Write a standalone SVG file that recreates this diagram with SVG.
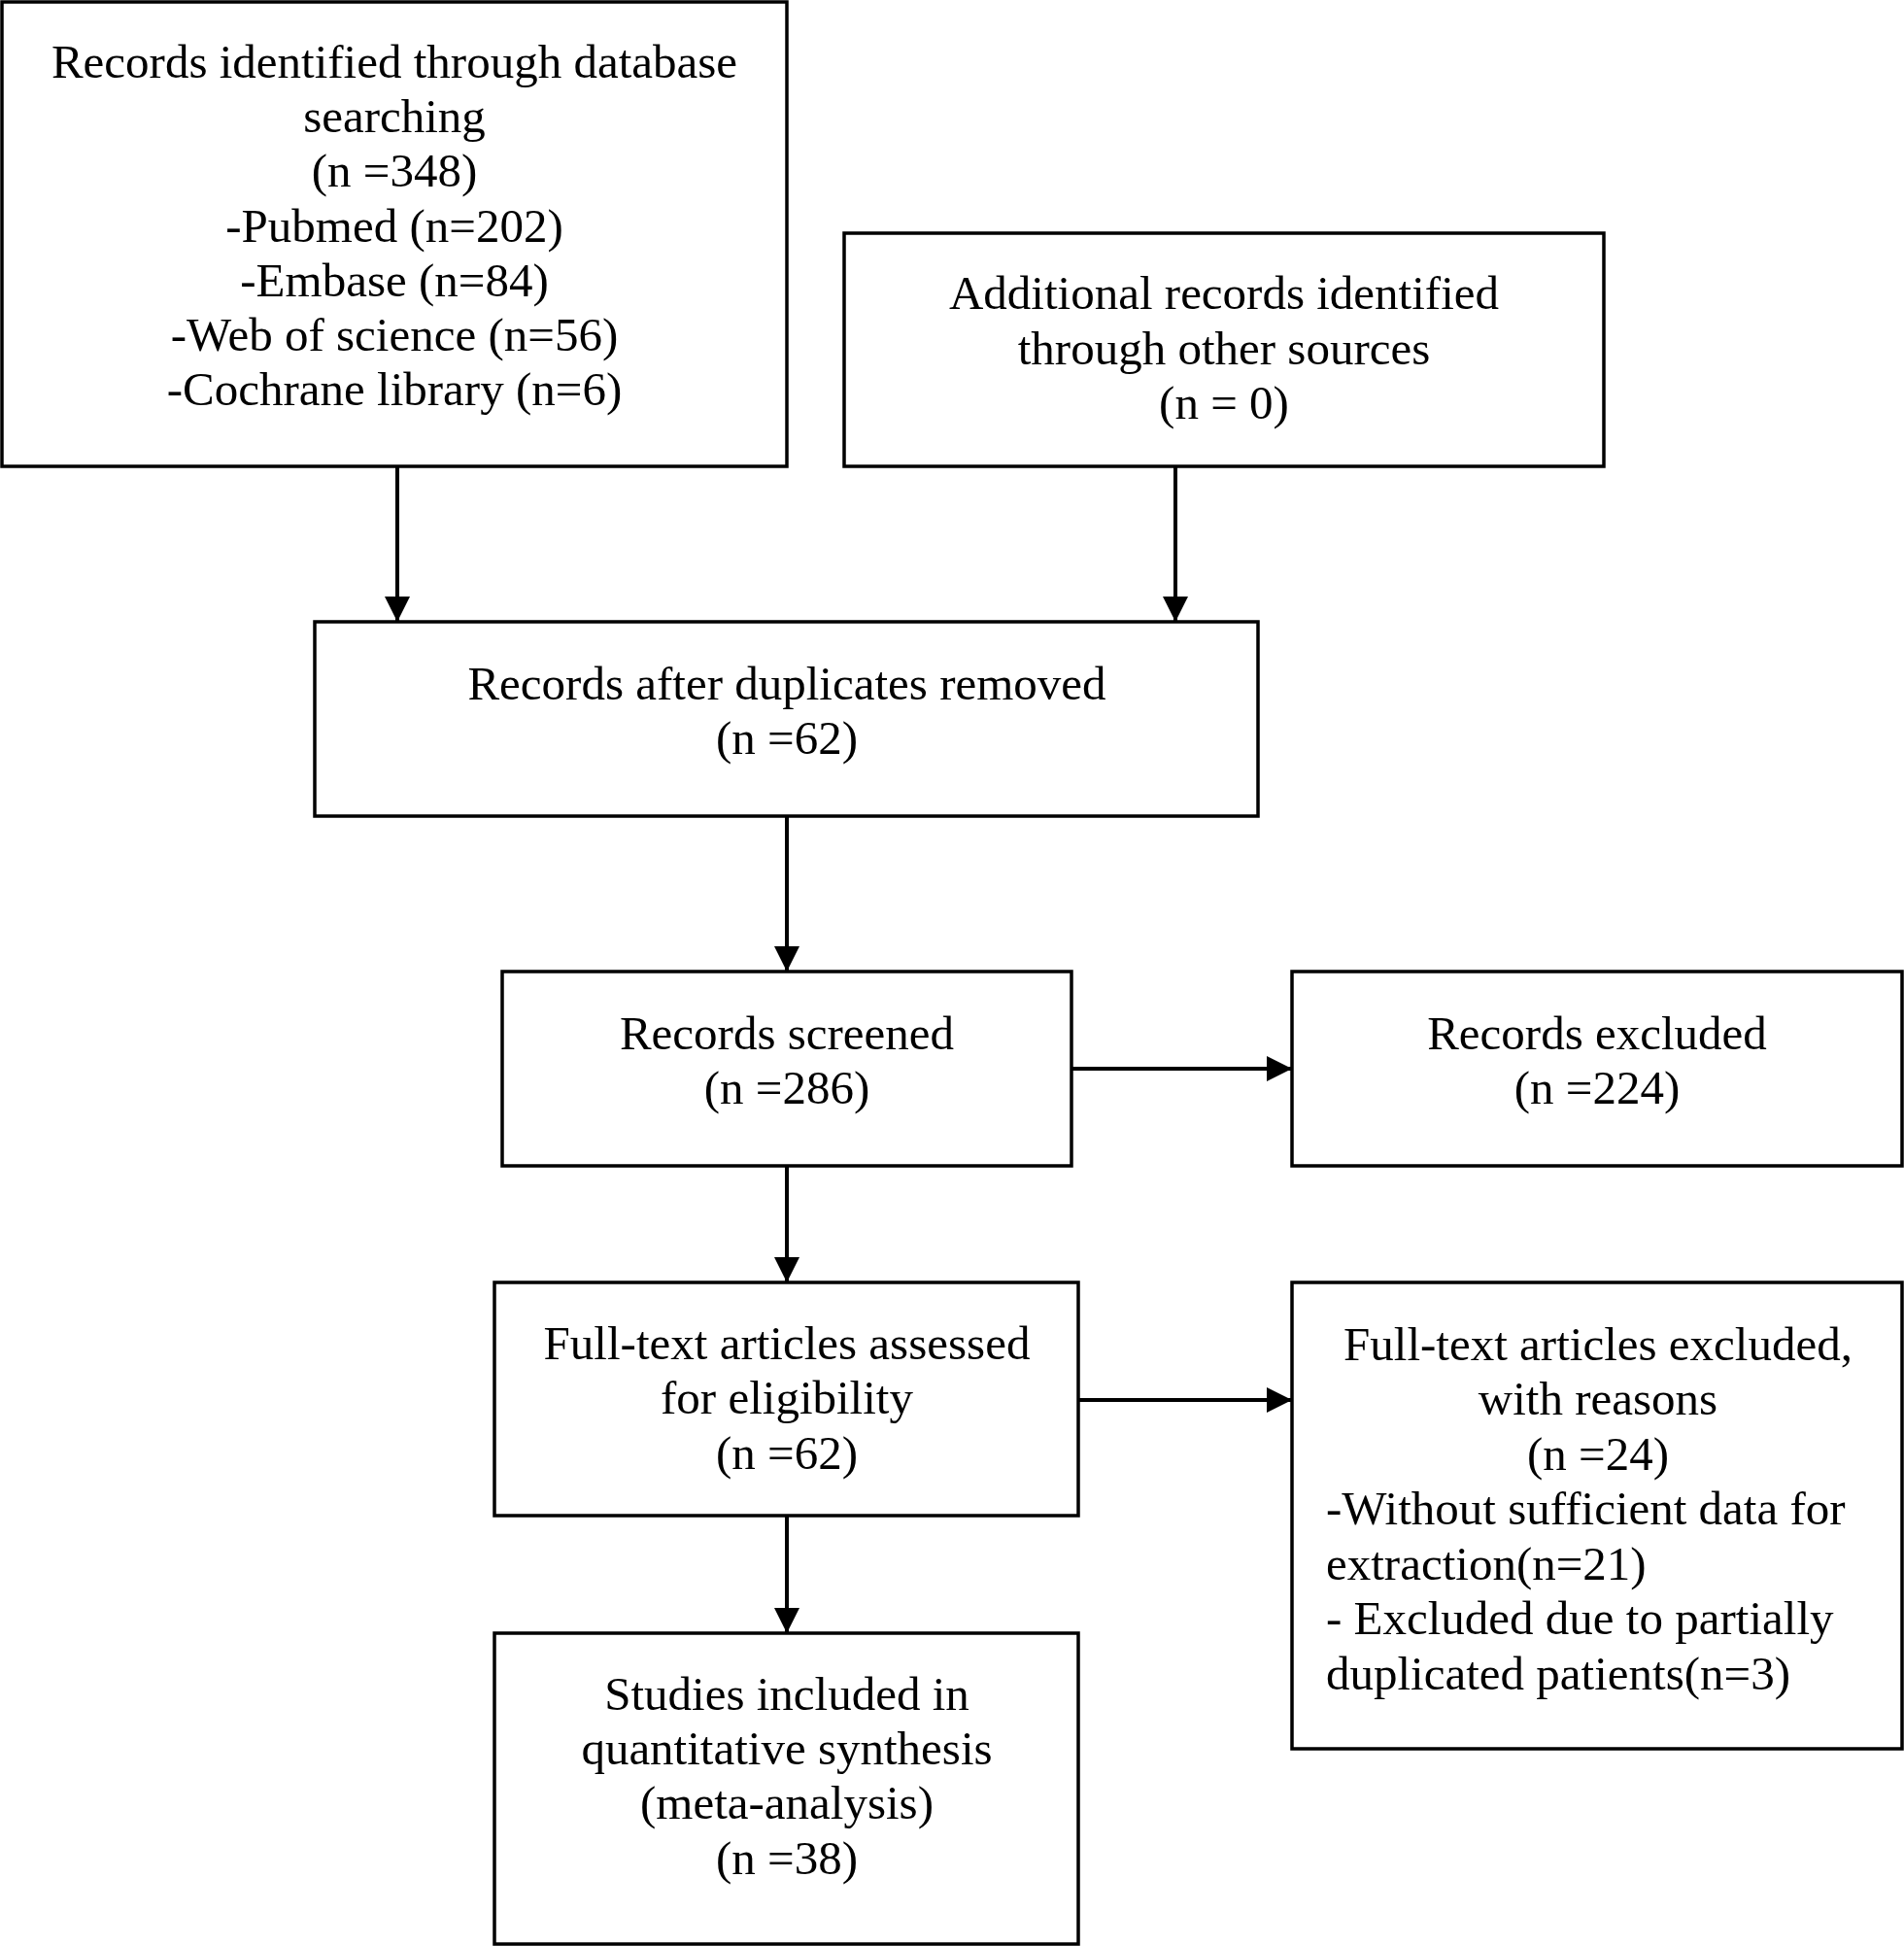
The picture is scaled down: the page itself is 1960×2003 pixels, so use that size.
<svg xmlns="http://www.w3.org/2000/svg" width="1960" height="2003" viewBox="0 0 1960 2003">
<style>
.box{fill:#fff;stroke:#000;stroke-width:3.5}
.t{font-family:"Liberation Serif","Times New Roman",serif;font-size:49px;fill:#000}
.c{text-anchor:middle}
.edge{stroke:#000;stroke-width:4;fill:none}
</style>
<defs>
<marker id="ah" markerUnits="userSpaceOnUse" markerWidth="27" markerHeight="27" refX="26" refY="13" orient="auto">
<path d="M0,0 L26,13 L0,26 z" fill="#000"/>
</marker>
</defs>
<rect width="1960" height="2003" fill="#fff"/>
<g id="connectors">
<line class="edge" x1="409" y1="480" x2="409" y2="640" marker-end="url(#ah)"/>
<line class="edge" x1="1210" y1="480" x2="1210" y2="640" marker-end="url(#ah)"/>
<line class="edge" x1="810" y1="840" x2="810" y2="1000" marker-end="url(#ah)"/>
<line class="edge" x1="810" y1="1200" x2="810" y2="1320" marker-end="url(#ah)"/>
<line class="edge" x1="810" y1="1560" x2="810" y2="1681" marker-end="url(#ah)"/>
<line class="edge" x1="1103" y1="1100" x2="1330" y2="1100" marker-end="url(#ah)"/>
<line class="edge" x1="1110" y1="1441" x2="1330" y2="1441" marker-end="url(#ah)"/>
</g>
<g id="n1">
<rect class="box" x="2" y="2" width="808" height="478"/>
<text class="t c" x="406" y="80">Records identified through database</text>
<text class="t c" x="406" y="136">searching</text>
<text class="t c" x="406" y="192">(n =348)</text>
<text class="t c" x="406" y="249">-Pubmed (n=202)</text>
<text class="t c" x="406" y="305">-Embase (n=84)</text>
<text class="t c" x="406" y="361">-Web of science (n=56)</text>
<text class="t c" x="406" y="417">-Cochrane library (n=6)</text>
</g>
<g id="n2">
<rect class="box" x="869" y="240" width="782" height="240"/>
<text class="t c" x="1260" y="318">Additional records identified</text>
<text class="t c" x="1260" y="375">through other sources</text>
<text class="t c" x="1260" y="431">(n = 0)</text>
</g>
<g id="n3">
<rect class="box" x="324" y="640" width="971" height="200"/>
<text class="t c" x="810" y="720">Records after duplicates removed</text>
<text class="t c" x="810" y="776">(n =62)</text>
</g>
<g id="n4">
<rect class="box" x="517" y="1000" width="586" height="200"/>
<text class="t c" x="810" y="1080">Records screened</text>
<text class="t c" x="810" y="1136">(n =286)</text>
</g>
<g id="n5">
<rect class="box" x="1330" y="1000" width="628" height="200"/>
<text class="t c" x="1644" y="1080">Records excluded</text>
<text class="t c" x="1644" y="1136">(n =224)</text>
</g>
<g id="n6">
<rect class="box" x="509" y="1320" width="601" height="240"/>
<text class="t c" x="810" y="1399">Full-text articles assessed</text>
<text class="t c" x="810" y="1455">for eligibility</text>
<text class="t c" x="810" y="1512">(n =62)</text>
</g>
<g id="n7">
<rect class="box" x="1330" y="1320" width="628" height="480"/>
<text class="t c" x="1645" y="1400">Full-text articles excluded,</text>
<text class="t c" x="1645" y="1456">with reasons</text>
<text class="t c" x="1645" y="1513">(n =24)</text>
<text class="t" x="1365" y="1569">-Without sufficient data for</text>
<text class="t" x="1365" y="1626">extraction(n=21)</text>
<text class="t" x="1365" y="1682">- Excluded due to partially</text>
<text class="t" x="1365" y="1739">duplicated patients(n=3)</text>
</g>
<g id="n8">
<rect class="box" x="509" y="1681" width="601" height="320"/>
<text class="t c" x="810" y="1760">Studies included in</text>
<text class="t c" x="810" y="1816">quantitative synthesis</text>
<text class="t c" x="810" y="1872">(meta-analysis)</text>
<text class="t c" x="810" y="1929">(n =38)</text>
</g>
</svg>
